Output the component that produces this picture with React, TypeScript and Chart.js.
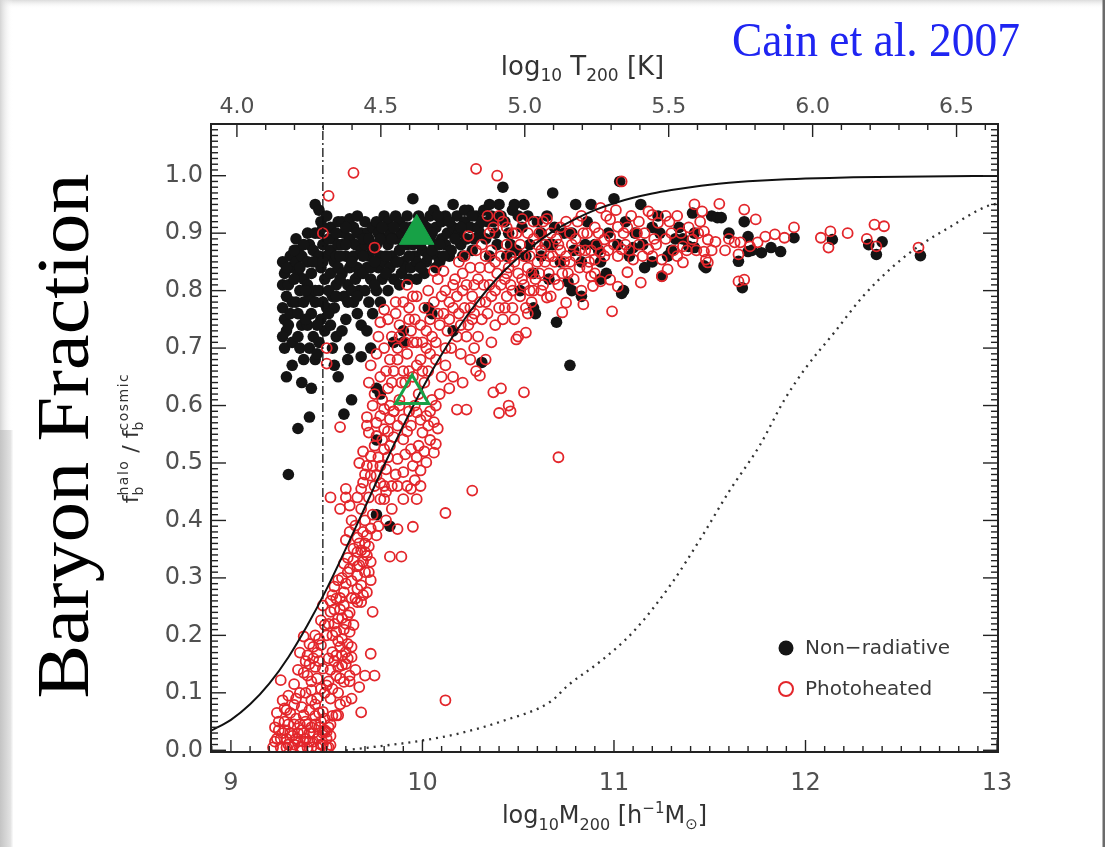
import { useEffect, useRef } from 'react';
import { Chart, registerables } from 'chart.js';

Chart.register(...registerables);

const W = 1105;
const H = 847;

// ---- axes ----
const xTickValues = [9, 10, 11, 12, 13];
const tTickValues = [4.0, 4.5, 5.0, 5.5, 6.0, 6.5];
const yTickValues = [0.0, 0.1, 0.2, 0.3, 0.4, 0.5, 0.6, 0.7, 0.8, 0.9, 1.0];
const xRange = [8.896, 13.005];
const tRange = [3.91, 6.644];
const yRange = [-0.003, 1.09];

// ---- reference lines ----
const cutoffM = 9.48;
const solidM = [8.896, 9.0, 9.1, 9.2, 9.3, 9.4, 9.5, 9.6, 9.7, 9.8, 9.9, 10.0, 10.1, 10.2, 10.3, 10.4, 10.5, 10.6, 10.7, 10.8, 10.9, 11.0, 11.1, 11.2, 11.3, 11.4, 11.5, 11.6, 11.7, 11.8, 11.9, 12.0, 12.25, 12.5, 12.75, 13.005];
const solidF = [0.034, 0.053, 0.08, 0.116, 0.162, 0.218, 0.281, 0.351, 0.423, 0.496, 0.565, 0.63, 0.689, 0.741, 0.786, 0.825, 0.857, 0.884, 0.907, 0.925, 0.94, 0.952, 0.9615, 0.969, 0.975, 0.98, 0.9843, 0.9876, 0.9902, 0.9922, 0.9938, 0.995, 0.9972, 0.9984, 0.9991, 0.9995];
const dottedM = [9.6, 9.8, 10.0, 10.2, 10.41, 10.67, 10.76, 10.93, 11.1, 11.3, 11.455, 11.6, 11.76, 11.89, 12.0, 12.15, 12.3, 12.45, 12.59, 12.75, 12.94, 13.005];
const dottedF = [0.0, 0.008, 0.017, 0.03, 0.05, 0.085, 0.113, 0.155, 0.206, 0.29, 0.37, 0.45, 0.53, 0.61, 0.665, 0.727, 0.79, 0.84, 0.877, 0.91, 0.946, 0.952];

// ---- highlighted haloes ----
const nonRadTriangle = [9.97, 0.898];
const photoTriangle = [9.946, 0.62];

// ---- simulated haloes: [log10 M200, fb/fb_cosmic] ----
const nonRadiative: number[][] = [
  [9.27,0.85],[9.28,0.83],[9.27,0.81],[9.29,0.79],[9.27,0.77],[9.28,0.75],[9.29,0.73],[9.27,0.72],[9.28,0.70],[9.29,0.65],[9.30,0.48],[9.31,0.84],[9.30,0.81],[9.32,0.78],[9.31,0.76],[9.30,0.74],[9.32,0.71],[9.32,0.67],[9.31,0.86],
  [9.34,0.89],[9.35,0.87],[9.34,0.85],[9.35,0.83],[9.36,0.80],[9.34,0.78],[9.35,0.76],[9.37,0.74],[9.35,0.72],[9.36,0.70],[9.38,0.68],[9.35,0.56],[9.38,0.82],[9.37,0.86],[9.38,0.78],[9.37,0.64],
  [9.40,0.90],[9.41,0.88],[9.40,0.85],[9.42,0.83],[9.40,0.81],[9.41,0.79],[9.42,0.76],[9.40,0.74],[9.43,0.72],[9.41,0.70],[9.42,0.63],[9.41,0.58],[9.44,0.95],[9.43,0.87],[9.44,0.80],[9.44,0.68],
  [9.46,0.94],[9.47,0.92],[9.46,0.90],[9.48,0.88],[9.46,0.86],[9.47,0.84],[9.49,0.82],[9.46,0.80],[9.48,0.78],[9.47,0.75],[9.49,0.73],[9.46,0.71],[9.45,0.69],[9.50,0.93],[9.50,0.86],[9.50,0.77],
  [9.52,0.91],[9.53,0.89],[9.52,0.87],[9.54,0.85],[9.52,0.83],[9.55,0.81],[9.53,0.79],[9.54,0.77],[9.52,0.74],[9.55,0.72],[9.53,0.70],[9.54,0.67],[9.56,0.65],[9.56,0.92],[9.56,0.88],[9.56,0.84],
  [9.58,0.92],[9.59,0.90],[9.58,0.88],[9.60,0.86],[9.58,0.83],[9.61,0.81],[9.59,0.79],[9.60,0.75],[9.58,0.73],[9.62,0.70],[9.61,0.68],[9.59,0.585],[9.62,0.925],[9.62,0.89],[9.62,0.84],[9.63,0.61],
  [9.64,0.91],[9.65,0.88],[9.64,0.86],[9.66,0.84],[9.65,0.82],[9.67,0.80],[9.64,0.78],[9.66,0.76],[9.68,0.74],[9.68,0.685],[9.66,0.93],[9.68,0.90],[9.68,0.87],[9.67,0.83],
  [9.70,0.92],[9.71,0.90],[9.70,0.88],[9.72,0.86],[9.71,0.84],[9.73,0.82],[9.70,0.80],[9.72,0.78],[9.74,0.76],[9.71,0.73],[9.74,0.91],[9.74,0.87],[9.73,0.70],
  [9.76,0.92],[9.77,0.90],[9.76,0.88],[9.78,0.86],[9.77,0.84],[9.79,0.82],[9.76,0.80],[9.78,0.78],[9.76,0.63],[9.78,0.62],[9.76,0.54],[9.76,0.41],[9.80,0.93],[9.80,0.89],[9.80,0.85],
  [9.82,0.92],[9.83,0.90],[9.82,0.88],[9.84,0.86],[9.83,0.84],[9.85,0.82],[9.82,0.80],[9.86,0.93],[9.86,0.89],[9.86,0.85],[9.85,0.71],[9.83,0.39],
  [9.88,0.92],[9.89,0.90],[9.88,0.87],[9.90,0.85],[9.89,0.83],[9.88,0.81],[9.90,0.71],[9.90,0.73],[9.92,0.93],[9.92,0.88],[9.91,0.84],
  [9.95,0.96],[9.94,0.91],[9.95,0.88],[9.96,0.86],[9.94,0.84],[9.97,0.82],[9.98,0.93],[9.98,0.89],[9.97,0.85],
  [10.00,0.92],[10.01,0.90],[10.00,0.87],[10.02,0.85],[10.01,0.83],[10.03,0.77],[10.04,0.93],[10.04,0.89],[10.03,0.86],
  [10.06,0.94],[10.07,0.91],[10.06,0.88],[10.08,0.86],[10.07,0.84],[10.05,0.76],[10.10,0.92],[10.10,0.89],[10.09,0.85],
  [10.12,0.93],[10.13,0.90],[10.12,0.88],[10.14,0.86],[10.16,0.95],[10.16,0.91],[10.15,0.87],[10.16,0.73],
  [10.18,0.93],[10.19,0.90],[10.20,0.88],[10.22,0.92],[10.21,0.86],
  [10.24,0.94],[10.25,0.91],[10.27,0.89],[10.28,0.93],[10.26,0.87],[10.30,0.90],
  [10.32,0.94],[10.34,0.92],[10.33,0.89],[10.36,0.93],[10.38,0.90],[10.40,0.95],[10.42,0.98],[10.31,0.675],
  [10.43,0.92],[10.45,0.90],[10.47,0.94],[10.48,0.95],[10.50,0.93],[10.52,0.91],[10.53,0.95],[10.55,0.93],[10.46,0.88],[10.51,0.80],[10.54,0.86],
  [10.58,0.77],[10.59,0.76],[10.60,0.92],[10.62,0.90],[10.65,0.93],[10.68,0.97],[10.66,0.88],[10.70,0.745],[10.69,0.91],
  [10.76,0.815],[10.78,0.80],[10.83,0.79],[10.77,0.67],[10.74,0.90],[10.80,0.95],[10.83,0.85],[10.86,0.92],[10.88,0.95],[10.90,0.88],[10.93,0.85],[10.93,0.82],[10.79,0.87],
  [11.00,0.96],[11.03,0.99],[11.05,0.80],[11.04,0.795],[11.10,0.875],[11.11,0.90],[11.16,0.84],[11.23,0.93],[11.24,0.90],[11.25,0.825],[11.32,0.89],[11.34,0.91],[11.39,0.877],[11.42,0.90],[11.42,0.875],[11.47,0.843],[11.48,0.84],[11.41,0.935],[11.51,0.93],[11.54,0.927],[11.56,0.927],[11.06,0.92],[11.14,0.95],[11.28,0.86],
  [11.65,0.851],[11.67,0.805],[11.68,0.92],[11.70,0.894],[11.70,0.868],[11.77,0.866],[11.82,0.875],[11.87,0.868],[11.94,0.892],[12.14,0.889],[12.33,0.88],[12.40,0.885],[12.37,0.863],[12.60,0.861],[11.60,0.90],[11.72,0.87],
  [9.29,0.84],[9.33,0.82],[9.33,0.87],[9.36,0.84],[9.38,0.88],[9.39,0.80],[9.39,0.75],[9.43,0.85],[9.44,0.78],[9.44,0.90],[9.45,0.74],[9.48,0.91],[9.48,0.85],[9.51,0.80],[9.51,0.89],[9.51,0.76],[9.55,0.90],[9.55,0.86],[9.55,0.79],[9.57,0.82],[9.57,0.86],[9.60,0.91],[9.60,0.88],[9.61,0.78],[9.63,0.85],[9.63,0.80],[9.66,0.90],[9.66,0.79],[9.69,0.86],[9.69,0.83],[9.69,0.89],[9.72,0.89],[9.73,0.84],[9.75,0.85],[9.75,0.81],[9.78,0.89],[9.79,0.91],[9.81,0.86],[9.81,0.83],[9.84,0.89],[9.85,0.91],[9.87,0.85],[9.90,0.88],[9.91,0.91],[9.93,0.86],[9.93,0.82],[9.96,0.90],[9.99,0.84],[9.99,0.88],[10.02,0.91],[10.05,0.87],[10.05,0.90],[10.08,0.93],[10.09,0.88],[10.11,0.86],[10.14,0.92],[10.17,0.89],[10.20,0.91],[10.22,0.94],[10.23,0.89],[10.26,0.93],[10.29,0.91],[10.31,0.92],[10.35,0.95],[10.37,0.92],[10.41,0.93],
  [10.35,0.86],[10.39,0.88],[10.44,0.86],[10.49,0.87],[10.56,0.88],[10.62,0.86],[10.68,0.88],[10.72,0.85],[10.78,0.90],[10.85,0.88],[10.92,0.87],[10.97,0.90],[11.02,0.88],[11.08,0.86],[11.15,0.88],[11.20,0.91],[11.30,0.87],[11.36,0.89],[10.58,0.83],[10.66,0.82],[10.96,0.83],[11.20,0.85],
];

const photoheated: number[][] = [
  [9.22,0.005],[9.24,0.02],[9.23,0.04],[9.26,0.005],[9.27,0.03],[9.28,0.05],[9.30,0.01],[9.31,0.03],[9.32,0.005],[9.33,0.045],[9.34,0.02],[9.36,0.005],[9.37,0.035],[9.38,0.015],[9.39,0.05],[9.40,0.005],[9.41,0.03],[9.43,0.015],[9.44,0.045],[9.45,0.005],[9.46,0.025],[9.47,0.05],[9.48,0.01],[9.49,0.035],[9.50,0.02],[9.51,0.005],[9.52,0.045],[9.25,0.035],[9.29,0.02],[9.35,0.03],[9.42,0.04],
  [9.23,0.015],[9.25,0.05],[9.26,0.02],[9.28,0.035],[9.29,0.005],[9.30,0.045],[9.32,0.025],[9.33,0.01],[9.34,0.055],[9.35,0.015],[9.36,0.045],[9.37,0.005],[9.38,0.03],[9.39,0.02],[9.40,0.045],[9.41,0.015],[9.42,0.005],[9.43,0.03],[9.44,0.06],[9.45,0.02],[9.46,0.04],[9.47,0.01],[9.48,0.03],[9.49,0.055],[9.50,0.005],[9.51,0.04],[9.52,0.025],
  [9.24,0.065],[9.29,0.07],[9.34,0.09],[9.37,0.075],[9.41,0.07],[9.44,0.08],[9.46,0.065],[9.39,0.10],[9.33,0.115],[9.30,0.095],[9.42,0.105],[9.45,0.125],[9.38,0.135],[9.41,0.15],[9.43,0.16],[9.46,0.155],[9.44,0.20],[9.41,0.185],[9.36,0.17],[9.39,0.155],
  [9.27,0.087],[9.28,0.073],[9.33,0.079],[9.38,0.061],[9.42,0.087],[9.45,0.09],[9.47,0.107],[9.49,0.10],[9.42,0.12],[9.36,0.10],[9.43,0.18],[9.45,0.17],[9.40,0.165],[9.46,0.194],[9.47,0.226],[9.38,0.198],[9.26,0.122],[9.50,0.032],[9.52,0.009],[9.31,0.065],[9.40,0.13],[9.44,0.145],[9.35,0.14],
  [9.48,0.252],[9.49,0.218],[9.47,0.183],[9.48,0.142],[9.50,0.113],[9.48,0.067],[9.51,0.16],[9.50,0.20],
  [9.53,0.27],[9.55,0.264],[9.52,0.241],[9.56,0.229],[9.59,0.252],[9.61,0.235],[9.55,0.206],[9.58,0.194],[9.62,0.206],[9.60,0.171],[9.55,0.165],[9.53,0.171],[9.63,0.162],[9.58,0.148],[9.55,0.13],[9.59,0.119],[9.53,0.107],[9.62,0.13],[9.56,0.061],[9.53,0.06],[9.64,0.218],[9.66,0.258],[9.66,0.281],[9.60,0.29],[9.56,0.296],[9.57,0.18],[9.61,0.185],[9.54,0.22],[9.57,0.245],[9.52,0.09],[9.60,0.085],[9.56,0.10],
  [9.51,0.12],[9.52,0.14],[9.54,0.155],[9.56,0.145],[9.57,0.125],[9.58,0.165],[9.60,0.15],[9.61,0.16],[9.63,0.18],[9.59,0.21],[9.56,0.19],[9.53,0.20],[9.51,0.22],[9.52,0.26],[9.54,0.245],[9.58,0.23],[9.60,0.22],[9.62,0.24],[9.63,0.265],[9.59,0.275],[9.57,0.265],[9.54,0.285],[9.58,0.30],[9.61,0.31],[9.63,0.295],[9.64,0.33],[9.67,0.36],[9.70,0.345],[9.69,0.27],[9.72,0.31],[9.66,0.32],[9.61,0.335],[9.59,0.325],[9.65,0.14],[9.67,0.11],[9.57,0.08],[9.63,0.09],
  [9.64,0.351],[9.66,0.345],[9.68,0.348],[9.71,0.339],[9.69,0.328],[9.73,0.328],[9.67,0.322],[9.62,0.316],[9.66,0.304],[9.73,0.296],[9.68,0.287],[9.71,0.275],[9.65,0.264],[9.68,0.258],[9.74,0.241],[9.70,0.13],[9.75,0.13],[9.73,0.168],[9.68,0.066],[9.62,0.12],[9.55,0.061],[9.49,0.033],[9.70,0.31],[9.72,0.355],
  [9.52,0.44],[9.60,0.44],[9.62,0.426],[9.60,0.455],[9.68,0.455],[9.65,0.391],[9.69,0.38],[9.73,0.386],[9.60,0.366],[9.71,0.374],[9.76,0.374],[9.63,0.40],[9.57,0.42],
  [9.62,0.38],[9.66,0.37],[9.70,0.40],[9.74,0.41],[9.68,0.42],[9.72,0.44],[9.66,0.44],[9.75,0.46],[9.78,0.465],[9.70,0.48],[9.74,0.495],[9.77,0.51],[9.69,0.52],[9.82,0.51],[9.79,0.54],[9.85,0.545],[9.82,0.555],[9.76,0.57],[9.85,0.59],[9.88,0.60],[9.92,0.555],[9.91,0.515],[9.86,0.48],[9.84,0.46],[9.81,0.45],[9.92,0.46],[9.96,0.47],[9.98,0.53],[10.01,0.52],[10.03,0.565],[9.99,0.575],[9.93,0.59],[10.04,0.59],[10.08,0.56],[9.81,0.40],[9.77,0.39],[9.70,0.36],
  [9.69,0.466],[9.73,0.478],[9.76,0.478],[9.80,0.46],[9.71,0.495],[9.78,0.495],[9.81,0.489],[9.73,0.512],[9.80,0.524],[9.83,0.53],[9.87,0.507],[9.72,0.553],[9.76,0.547],[9.80,0.559],[9.83,0.576],[9.87,0.565],[9.90,0.576],[9.80,0.594],[9.71,0.565],[9.78,0.582],[9.75,0.53],[9.67,0.50],
  [9.90,0.541],[9.94,0.524],[9.90,0.484],[9.95,0.495],[9.99,0.487],[9.87,0.46],[9.94,0.455],[9.90,0.437],[9.97,0.437],[9.99,0.46],[10.02,0.501],[10.06,0.518],[10.07,0.533],[9.97,0.588],[10.02,0.582],[10.06,0.571],[10.07,0.60],[10.00,0.553],[9.94,0.565],[9.84,0.42],[9.80,0.437],[9.95,0.389],[9.87,0.385],[9.83,0.337],[9.89,0.337],[9.78,0.437],[10.04,0.54],[9.97,0.51],
  [10.12,0.087],[10.26,0.452],[10.12,0.413],[10.71,0.51],
  [9.72,0.64],[9.75,0.62],[9.73,0.67],[9.78,0.65],[9.76,0.69],[9.80,0.70],[9.74,0.60],[9.79,0.61],[9.71,0.58],[9.77,0.72],[9.80,0.767],[9.78,0.745],
  [9.82,0.63],[9.85,0.66],[9.83,0.68],[9.87,0.70],[9.84,0.72],[9.88,0.74],[9.82,0.75],[9.86,0.78],[9.89,0.64],[9.88,0.61],[9.85,0.59],[9.83,0.60],[9.86,0.76],
  [9.92,0.81],[9.91,0.64],[9.93,0.66],[9.92,0.69],[9.95,0.71],[9.94,0.73],[9.96,0.75],[9.93,0.77],[9.97,0.79],[9.98,0.62],[9.96,0.60],[9.99,0.68],[9.95,0.65],[9.99,0.74],
  [10.01,0.64],[10.03,0.66],[10.02,0.70],[10.05,0.72],[10.04,0.75],[10.06,0.78],[10.03,0.80],[10.08,0.82],[10.06,0.834],[10.07,0.68],[10.09,0.62],[10.09,0.74],[10.01,0.77],[10.05,0.61],
  [10.11,0.834],[10.12,0.80],[10.14,0.78],[10.11,0.76],[10.13,0.73],[10.15,0.70],[10.12,0.67],[10.16,0.65],[10.18,0.593],[10.19,0.85],[10.17,0.82],[10.19,0.76],[10.18,0.72],[10.14,0.63],[10.20,0.69],
  [10.23,0.593],[10.24,0.895],[10.22,0.86],[10.25,0.84],[10.23,0.81],[10.26,0.79],[10.22,0.77],[10.27,0.70],[10.24,0.74],[10.28,0.66],[10.30,0.652],[10.29,0.82],[10.28,0.87],[10.21,0.64],[10.26,0.75],
  [10.31,0.88],[10.34,0.93],[10.33,0.86],[10.35,0.84],[10.32,0.81],[10.36,0.79],[10.34,0.76],[10.38,0.74],[10.37,0.623],[10.40,0.587],[10.39,0.83],[10.40,0.93],[10.36,0.71],[10.33,0.68],
  [10.42,0.92],[10.43,0.77],[10.44,0.88],[10.46,0.59],[10.41,0.86],[10.45,0.84],[10.43,0.82],[10.47,0.80],[10.44,0.79],[10.48,0.75],[10.49,0.715],[10.41,0.63],[10.45,0.60],[10.46,0.86],[10.50,0.72],[10.49,0.90],
  [10.52,0.925],[10.53,0.623],[10.54,0.727],[10.51,0.88],[10.53,0.86],[10.55,0.84],[10.52,0.82],[10.56,0.80],[10.57,0.78],[10.55,0.76],[10.58,0.89],[10.60,0.85],[10.59,0.82],
  [10.65,0.925],[10.65,0.788],[10.67,0.79],[10.62,0.87],[10.64,0.85],[10.66,0.83],[10.63,0.81],[10.68,0.86],[10.70,0.89],[10.69,0.82],[10.61,0.90],
  [9.81,0.66],[9.84,0.64],[9.87,0.68],[9.90,0.66],[9.88,0.72],[9.91,0.71],[9.93,0.75],[9.90,0.78],[9.95,0.79],[9.97,0.71],[9.97,0.67],[10.00,0.66],[10.00,0.71],[10.02,0.73],[10.04,0.69],[10.07,0.71],[10.08,0.76],[10.10,0.79],[10.10,0.65],[10.12,0.70],[10.14,0.75],[10.16,0.77],[10.16,0.81],[10.18,0.79],[10.20,0.74],[10.21,0.80],[10.21,0.83],[10.23,0.72],[10.25,0.77],[10.25,0.68],[10.27,0.81],[10.27,0.76],[10.29,0.72],[10.30,0.78],[10.31,0.75],[10.30,0.84],[10.33,0.78],[10.35,0.81],[10.36,0.87],[10.38,0.85],[10.38,0.80],[10.40,0.77],[10.41,0.81],[10.42,0.75],[10.44,0.83],[10.46,0.81],[10.47,0.77],[10.48,0.85],[10.50,0.83],[10.51,0.79],[10.53,0.81],[10.54,0.77],[10.56,0.86],[10.57,0.83],[10.58,0.80],[10.60,0.88],[10.61,0.83],[10.62,0.80],[10.64,0.88],[10.66,0.86],[10.67,0.90],[10.69,0.85],[10.71,0.88],[10.73,0.83],[10.75,0.86],[10.77,0.85],[10.79,0.82],[10.80,0.89],[10.82,0.87],[10.84,0.90],[10.86,0.84],[10.88,0.87],[10.90,0.83],[10.92,0.90],[10.95,0.86],[10.97,0.87],[11.00,0.88],[11.02,0.86],[11.06,0.88],[11.08,0.87],[11.12,0.90],[11.15,0.86],[11.16,0.90],[11.20,0.86],[11.22,0.88],[11.27,0.89],[11.30,0.90],[11.33,0.86],[11.38,0.87],[11.43,0.87],[11.44,0.90],[11.51,0.87],
  [10.35,0.90],[10.37,0.91],[10.44,0.91],[10.47,0.90],[10.55,0.90],[10.58,0.92],[10.63,0.92],[10.72,0.91],[10.75,0.92],[10.83,0.93],[10.90,0.91],[10.96,0.93],[11.07,0.91],[11.01,0.94],[11.13,0.92],[11.27,0.93],[11.33,0.93],[11.42,0.95],
  [10.75,0.779],[10.73,0.762],[10.84,0.776],[10.83,0.80],[10.89,0.808],[10.93,0.816],[10.72,0.87],[10.74,0.85],[10.76,0.83],[10.78,0.88],[10.80,0.86],[10.82,0.84],[10.85,0.87],[10.87,0.85],[10.88,0.825],[10.90,0.854],[10.91,0.88],[10.93,0.944],[10.93,0.866],[10.77,0.90],[10.81,0.92],[10.86,0.90],[10.95,0.889],[10.71,0.81],
  [10.98,0.894],[11.05,0.90],[11.02,0.911],[10.98,0.924],[10.98,0.819],[10.99,0.764],[11.02,0.807],[11.04,0.872],[11.07,0.832],[11.10,0.854],[11.14,0.814],[11.18,0.872],[11.18,0.938],[11.20,0.932],[11.23,0.918],[11.25,0.854],[11.25,0.825],[11.28,0.837],[11.29,0.92],[11.35,0.90],[11.36,0.877],[11.36,0.849],[11.41,0.889],[11.47,0.903],[11.49,0.889],[11.53,0.885],[11.47,0.868],[11.49,0.849],[11.48,0.854],[11.46,0.938],[11.45,0.92],[11.04,0.99],[11.13,0.88],[11.21,0.89],[11.31,0.87],[11.39,0.91],[11.09,0.93],
  [11.55,0.951],[11.63,0.884],[11.65,0.863],[11.66,0.884],[11.68,0.941],[11.71,0.877],[11.74,0.924],[11.75,0.884],[11.79,0.894],[11.84,0.898],[11.89,0.892],[11.94,0.91],[11.65,0.816],[11.68,0.819],[12.08,0.892],[12.13,0.903],[12.12,0.875],[12.22,0.90],[12.32,0.89],[12.36,0.915],[12.41,0.912],[12.37,0.877],[12.59,0.875],[11.58,0.87],[11.60,0.89],
  [9.75,0.875],[9.50,0.70],[9.50,0.673],[9.57,0.5625],[9.64,1.005],[9.51,0.965],[9.48,0.90],[10.28,1.012],[10.39,1.0],
];

const nonRadLabel = 'Non\u2212radiative';
const photoLabel = 'Photoheated';
const headline = 'Cain et al. 2007';
const sideTitle = 'Baryon Fraction';

const SANS = '"DejaVu Sans"';
const SERIF = '"Liberation Serif"';
const GREEN = '#17a146';
const RED = '#e3262b';

type Part = { t: string; s: number; dy?: number; ls?: number; stack?: boolean };

function setPartFont(ctx: CanvasRenderingContext2D, p: Part) {
  ctx.font = `${p.s}px ${SANS}`;
  (ctx as any).letterSpacing = `${p.ls || 0}px`;
}

function drawRich(ctx: CanvasRenderingContext2D, parts: Part[], x: number, y: number) {
  ctx.textAlign = 'left';
  ctx.textBaseline = 'alphabetic';
  const widths = parts.map((p) => {
    setPartFont(ctx, p);
    return ctx.measureText(p.t).width;
  });
  const xs: number[] = [];
  let total = 0;
  let prevStart = 0;
  let prevW = 0;
  parts.forEach((p, i) => {
    if (p.stack) {
      xs.push(prevStart);
      prevW = Math.max(prevW, widths[i]);
      total = prevStart + prevW;
    } else {
      xs.push(total);
      prevStart = total;
      prevW = widths[i];
      total += widths[i];
    }
  });
  const x0 = x - total / 2;
  parts.forEach((p, i) => {
    setPartFont(ctx, p);
    ctx.fillText(p.t, x0 + xs[i], y + (p.dy || 0));
  });
  (ctx as any).letterSpacing = '0px';
}

function line(ctx: CanvasRenderingContext2D, x1: number, y1: number, x2: number, y2: number) {
  ctx.beginPath();
  ctx.moveTo(x1, y1);
  ctx.lineTo(x2, y2);
  ctx.stroke();
}

const decorPlugin = {
  id: 'decor',
  beforeDraw(chart: any) {
    const ctx: CanvasRenderingContext2D = chart.ctx;
    ctx.save();
    ctx.fillStyle = '#ffffff';
    ctx.fillRect(0, 0, W, H);
    let g = ctx.createLinearGradient(0, 0, 0, 9);
    g.addColorStop(0, '#dcdcdc');
    g.addColorStop(1, 'rgba(255,255,255,0)');
    ctx.fillStyle = g;
    ctx.fillRect(0, 0, W, 9);
    g = ctx.createLinearGradient(0, 0, 13, 0);
    g.addColorStop(0, '#d4d4d4');
    g.addColorStop(1, 'rgba(255,255,255,0)');
    ctx.fillStyle = g;
    ctx.fillRect(0, 0, 13, 430);
    g = ctx.createLinearGradient(0, 0, 13, 0);
    g.addColorStop(0, '#c4c4c4');
    g.addColorStop(0.8, '#e2e2e2');
    g.addColorStop(1, '#fbfbfb');
    ctx.fillStyle = g;
    ctx.fillRect(0, 430, 13, H - 430);
    ctx.fillStyle = '#6b6b6b';
    ctx.fillRect(W - 2.5, 0, 2.5, H);
    ctx.restore();
  },
  afterDatasetsDraw(chart: any) {
    const ctx: CanvasRenderingContext2D = chart.ctx;
    const { left, right, top, bottom } = chart.chartArea;
    const xs = chart.scales.x;
    const ts = chart.scales.x2;
    const ys = chart.scales.y;
    ctx.save();
    ctx.strokeStyle = '#222';
    ctx.lineWidth = 1.4;
    for (let i = Math.ceil(xRange[0] * 10); i <= Math.floor(xRange[1] * 10); i++) {
      const p = xs.getPixelForValue(i / 10);
      const major = i % 10 === 0;
      line(ctx, p, bottom, p, bottom - (major ? 12 : 6));
    }
    for (let i = Math.ceil(tRange[0] * 10); i <= Math.floor(tRange[1] * 10); i++) {
      const p = ts.getPixelForValue(i / 10);
      const major = i % 5 === 0;
      line(ctx, p, top, p, top + (major ? 13 : 6));
    }
    for (let i = Math.ceil(yRange[0] * 100); i <= Math.floor(yRange[1] * 100); i++) {
      const p = ys.getPixelForValue(i / 100);
      const major = i % 10 === 0 && i <= 100;
      const len = major ? 15 : 7;
      line(ctx, left, p, left + len, p);
      line(ctx, right, p, right - len, p);
    }
    ctx.lineWidth = 2;
    ctx.strokeRect(left, top, right - left, bottom - top);

    const lx = right - 212;
    const ly1 = bottom - 104;
    const ly2 = bottom - 63;
    ctx.fillStyle = '#151515';
    ctx.beginPath();
    ctx.arc(lx, ly1, 7.5, 0, Math.PI * 2);
    ctx.fill();
    ctx.strokeStyle = RED;
    ctx.lineWidth = 2;
    ctx.beginPath();
    ctx.arc(lx, ly2, 7, 0, Math.PI * 2);
    ctx.stroke();
    ctx.fillStyle = '#3a3a3a';
    ctx.font = `20px ${SANS}`;
    ctx.textAlign = 'left';
    ctx.textBaseline = 'middle';
    ctx.fillText(nonRadLabel, lx + 19, ly1 + 1);
    ctx.fillText(photoLabel, lx + 19, ly2 + 1);
    ctx.restore();
  },
  afterDraw(chart: any) {
    const ctx: CanvasRenderingContext2D = chart.ctx;
    const { left, right, top, bottom } = chart.chartArea;
    const cx = (left + right) / 2;
    const cy = (top + bottom) / 2;
    ctx.save();
    ctx.fillStyle = '#333';
    drawRich(ctx, [
      { t: 'log', s: 26 },
      { t: '10', s: 17, dy: 6 },
      { t: ' T', s: 26 },
      { t: '200', s: 17, dy: 6 },
      { t: ' [K]', s: 26 },
    ], cx - 22, 75);
    drawRich(ctx, [
      { t: 'log', s: 24 },
      { t: '10', s: 16, dy: 7 },
      { t: 'M', s: 24 },
      { t: '200', s: 16, dy: 7 },
      { t: ' [h', s: 24 },
      { t: '\u22121', s: 15, dy: -10 },
      { t: 'M', s: 24 },
      { t: '\u2299', s: 15, dy: 6 },
      { t: ']', s: 24 },
    ], cx, 823);
    ctx.save();
    ctx.translate(138, cy);
    ctx.rotate(-Math.PI / 2);
    drawRich(ctx, [
      { t: 'f', s: 22 },
      { t: 'halo', s: 14, dy: -10, ls: 1.5 },
      { t: 'b', s: 14, dy: 5, stack: true },
      { t: ' / ', s: 22 },
      { t: 'f', s: 22 },
      { t: 'cosmic', s: 14, dy: -10, ls: 1.5 },
      { t: 'b', s: 14, dy: 5, stack: true },
    ], 0, 0);
    ctx.restore();

    ctx.save();
    ctx.translate(88, cy - 2);
    ctx.rotate(-Math.PI / 2);
    ctx.font = `75px ${SERIF}`;
    ctx.fillStyle = '#000';
    ctx.textAlign = 'center';
    ctx.textBaseline = 'alphabetic';
    const w = ctx.measureText(sideTitle).width;
    ctx.scale(525 / w, 1);
    ctx.fillText(sideTitle, 0, 0);
    ctx.restore();

    ctx.save();
    ctx.translate(732, 56);
    ctx.scale(1.0, 1.1);
    ctx.font = `44px ${SERIF}`;
    ctx.fillStyle = '#1f25f2';
    ctx.textAlign = 'left';
    ctx.textBaseline = 'alphabetic';
    const hw = ctx.measureText(headline).width;
    ctx.scale(288 / hw, 1);
    ctx.fillText(headline, 0, 0);
    ctx.restore();
    ctx.restore();
  },
};

const tickFont = { family: 'DejaVu Sans', size: 24 };

export default function App() {
  const ref = useRef<HTMLCanvasElement | null>(null);
  useEffect(() => {
    if (!ref.current) return;
    const toXY = (arr: number[][]) => arr.map(([x, y]) => ({ x, y }));
    const chart = new Chart(ref.current, {
      type: 'scatter',
      data: {
        datasets: [
          {
            label: 'Non-radiative example',
            data: [{ x: nonRadTriangle[0], y: nonRadTriangle[1] }],
            pointStyle: 'triangle',
            pointRadius: 20,
            pointBackgroundColor: GREEN,
            pointBorderColor: GREEN,
            pointBorderWidth: 1,
          },
          {
            label: 'Photoheated example',
            data: [{ x: photoTriangle[0], y: photoTriangle[1] }],
            pointStyle: 'triangle',
            pointRadius: 19,
            pointBackgroundColor: 'rgba(0,0,0,0)',
            pointBorderColor: GREEN,
            pointBorderWidth: 3,
          },
          {
            label: 'model',
            data: solidM.map((x, i) => ({ x, y: solidF[i] })),
            showLine: true,
            pointRadius: 0,
            borderColor: '#111',
            borderWidth: 2,
            tension: 0.35,
          },
          {
            label: 'model shifted',
            data: dottedM.map((x, i) => ({ x, y: dottedF[i] })),
            showLine: true,
            pointRadius: 0,
            borderColor: '#333',
            borderWidth: 2.3,
            borderDash: [2, 5],
            cubicInterpolationMode: 'monotone',
          },
          {
            label: 'resolution limit',
            data: [{ x: cutoffM, y: yRange[0] }, { x: cutoffM, y: yRange[1] }],
            showLine: true,
            pointRadius: 0,
            borderColor: '#111',
            borderWidth: 1.3,
            borderDash: [9, 3, 2, 3],
          },
          {
            label: photoLabel,
            data: toXY(photoheated),
            pointStyle: 'circle',
            pointRadius: 5,
            pointBackgroundColor: 'rgba(0,0,0,0)',
            pointBorderColor: RED,
            pointBorderWidth: 1.8,
          },
          {
            label: nonRadLabel,
            data: toXY(nonRadiative),
            pointStyle: 'circle',
            pointRadius: 5.8,
            pointBackgroundColor: '#141414',
            pointBorderWidth: 0,
          },
        ],
      },
      options: {
        responsive: false,
        animation: false,
        layout: { padding: { left: 0, right: 107, top: 0, bottom: 0 } },
        plugins: { legend: { display: false }, tooltip: { enabled: false } },
        scales: {
          x: {
            type: 'linear',
            position: 'bottom',
            min: xRange[0],
            max: xRange[1],
            grid: { display: false, drawTicks: false },
            border: { display: false },
            afterBuildTicks: (s: any) => { s.ticks = xTickValues.map((value) => ({ value })); },
            afterFit: (s: any) => { s.height = 95; },
            ticks: { font: tickFont, color: '#505050', padding: 17, maxRotation: 0, autoSkip: false, callback: (v: any) => String(v) },
          },
          x2: {
            type: 'linear',
            position: 'top',
            min: tRange[0],
            max: tRange[1],
            grid: { display: false, drawTicks: false },
            border: { display: false },
            afterBuildTicks: (s: any) => { s.ticks = tTickValues.map((value) => ({ value })); },
            afterFit: (s: any) => { s.height = 124; },
            ticks: { font: { family: 'DejaVu Sans', size: 22 }, color: '#505050', padding: 4, maxRotation: 0, autoSkip: false, callback: (v: any) => Number(v).toFixed(1) },
          },
          y: {
            type: 'linear',
            position: 'left',
            min: yRange[0],
            max: yRange[1],
            grid: { display: false, drawTicks: false },
            border: { display: false },
            afterBuildTicks: (s: any) => { s.ticks = yTickValues.map((value) => ({ value })); },
            afterFit: (s: any) => { s.width = 211; },
            ticks: { font: tickFont, color: '#505050', padding: 8, autoSkip: false, callback: (v: any) => Number(v).toFixed(1) },
          },
        },
      } as any,
      plugins: [decorPlugin],
    });
    return () => chart.destroy();
  }, []);
  return (
    <div style={{ position: 'absolute', left: 0, top: 0, width: W, height: H, background: '#fff' }}>
      <canvas ref={ref} width={W} height={H} style={{ display: 'block' }} />
    </div>
  );
}
